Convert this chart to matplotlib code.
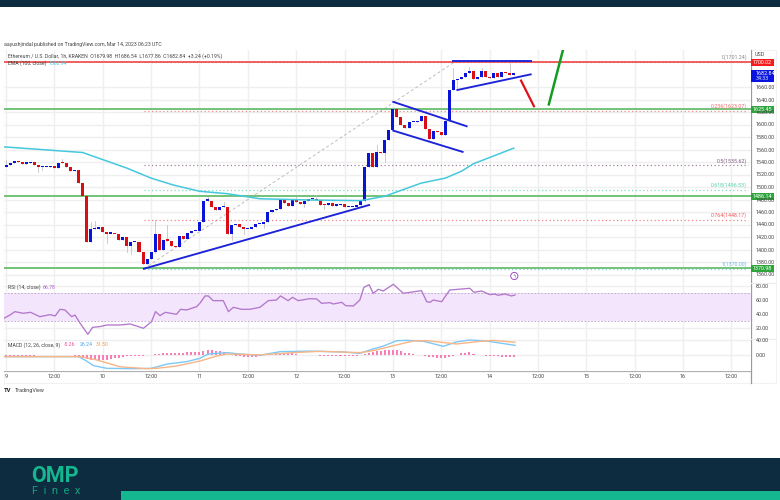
import matplotlib
matplotlib.use('Agg')
from matplotlib import pyplot as plt
from matplotlib.patches import Rectangle, Circle

plt.rcParams['font.family'] = ['Roboto', 'DejaVu Sans']

# hourly candles, hour 0 = 9 Mar 00:00
first_open = 1532
closes = [1536, 1539, 1543, 1541, 1538, 1539, 1540, 1536, 1532, 1532, 1533, 1535, 1531, 1539, 1538.5,
          1533, 1526, 1528.5, 1507, 1486, 1413,
          1433, 1433, 1437, 1429, 1426, 1426, 1425, 1416, 1420, 1406, 1412, 1412, 1397, 1378, 1385, 1396,
          1426, 1400, 1416, 1415, 1406, 1405, 1423, 1418, 1427, 1430, 1430, 1444, 1479, 1479, 1468, 1464,
          1468, 1468, 1425, 1440, 1442, 1436, 1433, 1434, 1437, 1441,
          1441, 1445, 1461, 1464, 1465, 1480, 1475, 1470, 1482, 1476, 1474, 1479, 1481, 1481, 1480, 1472.5,
          1471.5, 1475, 1471, 1471.5, 1473.5, 1468, 1468, 1469, 1472, 1479,
          1533, 1555, 1533, 1557, 1555, 1576, 1592, 1625, 1612, 1600, 1595, 1604, 1605, 1607, 1615, 1594,
          1578, 1590, 1588, 1584, 1606, 1656, 1672, 1674, 1676, 1683, 1686, 1673, 1676, 1687, 1676, 1675,
          1683, 1677, 1685, 1683, 1680, 1683]
wick_highs = {0: 1544, 14: 1545, 21: 1445, 22: 1447, 37: 1448, 40: 1440, 50: 1485, 54: 1476, 72: 1484,
              77: 1488, 111: 1691, 115: 1693, 118: 1691, 125: 1699, 96: 1628, 92: 1568}
wick_lows = {8: 1525, 9: 1528, 25: 1411, 30: 1397, 31: 1394, 37: 1395, 56: 1416, 59: 1426, 64: 1435,
             74: 1468, 79: 1466, 112: 1656, 105: 1574, 94: 1540}

ema_hours = [-0.5, 19, 30, 36, 41.5, 48, 55, 63, 75.5, 88, 94, 103, 109, 113, 116, 126]
ema_values = [1565, 1556, 1531, 1515, 1504, 1494, 1490, 1482, 1480, 1479, 1486, 1507, 1515, 1526, 1538, 1563]

fib_labels = ['0(1701.24)', '0.236(1623.07)', '0.5(1535.62)', '0.618(1496.53)', '0.764(1448.17)', '1(1370.00)']
fib_levels = [1701.24, 1623.07, 1535.62, 1496.53, 1448.17, 1370.0]
fib_colors = ['#8a8a8a', '#ee6a6a', '#7d5a7d', '#57d3a5', '#ee5a5a', '#6ab7e8']

resistance = 1701.24
supports = [1625.45, 1486.14, 1370.98]

rsi_hours = [-0.5, 1, 2.2, 4.3, 6.1, 8.4, 10.9, 12.2, 13.4, 14.6, 16.3, 17.1, 18.4, 20.3, 21.5, 23.3, 25, 28.3,
             30.8, 34.1, 36.1, 37.1, 38.2, 39.5, 42.3, 43.3, 44.8, 47.3, 48.1, 49.4, 50.2, 51.4, 53.9, 55.2,
             56.4, 58.5, 60.5, 63, 65.1, 67.1, 68.1, 70, 71.1, 72.5, 75.4, 77.1, 78.3, 80.4, 81.2, 83.3, 84.3,
             86.2, 87.8, 88.8, 90.1, 91.1, 92.4, 93.6, 96.1, 98.6, 103.1, 104.4, 105.2, 106, 108.1, 110.1,
             115.1, 116.1, 118, 120.1, 121.3, 122.1, 123.8, 125.4, 126.3]
rsi_values = [34.3, 39, 43.8, 41.4, 42.8, 36.6, 39.5, 37.6, 47.1, 46.2, 36.6, 39, 27.1, 11.4, 21.4, 22.4, 24.7, 24.7,
              26.2, 20, 29.5, 43.8, 38.1, 42.8, 40, 47.1, 46.2, 50.9, 55.7, 66.2, 66.2, 59.5, 59.5, 43.8,
              50, 47.1, 47.1, 50, 59.5, 60.4, 66.2, 59.5, 64.2, 59.5, 62.3, 61.9, 55.7, 56.6, 54.7, 57.1, 52.3,
              51.9, 60.4, 78.5, 82.3, 70, 75.7, 73.3, 82.8, 70, 73.8, 58, 57.1, 60.4, 58, 74.7,
              77.1, 71.4, 73.3, 68, 69, 67.1, 69, 66.2, 67.6]

macd_hours = [-0.5, 18, 20, 21.7, 25, 31.6, 36.1, 39.9, 44.8, 48.1, 50.2, 54.8, 58.1, 63, 68, 75.4, 83.7, 87.8,
              90.3, 93.6, 96.9, 99.4, 103.5, 108.5, 111.8, 115.1, 119.2, 126.3]
macd_line = [-3.5, -3.5, -15, -27, -34, -35, -34, -23, -16.6, -8, 3.4, 7, 3.4, 0, 9.5, 11, 8.7, 5,
             14, 24, 38, 39, 37, 23.5, 35, 40, 37.5, 26]
signal_hours = [-0.5, 18.4, 22.5, 28.3, 35, 37.4, 42.3, 48.1, 52.3, 54.8, 63, 71.3, 77.9, 87.8, 91.1, 96.1, 101,
                104.4, 111.8, 117.6, 120.9, 126.3]
signal_line = [-3.5, -3.5, -12, -30, -35, -34, -28, -15, -2, 3.4, 1, 7, 10.4, 7, 12, 25, 37.4, 38.3, 29.6, 36.5, 39,
               34]
macd_hist = [-1, -1, -2, -2, -1, -1, -1, -1, 0, 0, 0, 0, 1, 1, 0, 0, 0, -1, -3,
             -6, -9, -12, -13, -14, -13, -12, -9, -8, -6, -4, -3, -2, -2, -1, -1, 0, 1, 3, 4, 5, 6, 6, 7, 7, 7,
             8, 8, 9, 9, 11, 13, 13, 11, 11, 9, 1, 0, -2, -3, -4, -5, -5, -4,
             -2, 0, 2, 2, 3, 3, 4, 5, 5, 3, 1, 1, 0, 0, 0, -1, -2, -2, -2, -2, -2, -2, -2, -1, -1, 0,
             3, 7, 9, 10, 12, 14, 15, 15, 13, 10, 7, 5, 3, 2, 0, -2, -4, -5, -7, -8, -7, -5, -3, 0, 6, 7, 8, 4,
             2, 0, -1, -2, -3, -3, -4, -4, -5, -5]

price_ticks = [1660, 1640, 1620, 1600, 1580, 1560, 1540, 1520, 1500, 1480, 1460, 1440, 1420, 1400, 1380, 1360]
rsi_ticks = [80, 60, 40, 20]
macd_ticks = [40, 0]
time_hours = [0, 12, 24, 36, 48, 60, 72, 84, 96, 108, 120, 132, 144, 156, 168, 180]
time_labels = ['9', '12:00', '10', '12:00', '11', '12:00', '12', '12:00', '13', '12:00', '14', '12:00',
               '15', '12:00', '16', '12:00']

# annotation lines drawn on the chart, (hour, price)
blue_lines = [([34.2, 90.1], [1370, 1472]),
              ([110.9, 130.2], [1702, 1702]),
              ([112, 130.2], [1656, 1681]),
              ([96.1, 114.3], [1637, 1598]),
              ([96.1, 113.3], [1591, 1557])]
red_arrow = ([127.8, 131], [1671, 1630])
green_arrow = ([134.7, 138.2], [1633, 1720])
fib_trend = ([34.2, 111.4], [1370, 1701.24])

W, H = 780, 500
NAVY = '#0e2c40'
TEAL = '#14b78f'
GRID = '#efefef'


def axes_px(fig, left, top, right, bottom):
    return fig.add_axes([left / W, 1 - bottom / H, (right - left) / W, (bottom - top) / H])


def setup_pane(ax, ylim, yticks):
    ax.set_xlim(-0.5, 184.86)
    ax.set_ylim(*ylim)
    ax.set_xticks(time_hours)
    ax.set_yticks(yticks)
    ax.grid(True, color=GRID, lw=1.0)
    ax.set_axisbelow(True)
    ax.tick_params(length=0, labelbottom=False, labelleft=False)
    for s in ax.spines.values():
        s.set_visible(False)


fig = plt.figure(figsize=(W / 100, H / 100), dpi=100, facecolor='white')

# page bands
bg = fig.add_axes([0, 0, 1, 1], zorder=-1)
bg.set_xlim(0, W)
bg.set_ylim(H, 0)
bg.axis('off')
bg.add_patch(Rectangle((0, 0), W, 6.5, color=NAVY, lw=0))
bg.add_patch(Rectangle((0, 458), W, 42, color=NAVY, lw=0))
bg.add_patch(Rectangle((121, 491), W - 121, 9, color=TEAL, lw=0))
bg.add_patch(Rectangle((4, 50), 772, 333, fc='none', ec='#f2f2f2', lw=0.8))

# main pane
ax = axes_px(fig, 4, 50, 751, 283)
setup_pane(ax, (1347.2, 1720), price_ticks)

opens = [first_open] + closes[:-1]
for h, (o, c) in enumerate(zip(opens, closes)):
    top_w = wick_highs.get(h, max(o, c))
    low_w = wick_lows.get(h, min(o, c))
    ax.plot([h, h], [low_w, top_w], color='#c4c4c4', lw=0.6, zorder=3)
    col = '#0a14d8' if c >= o else '#d80f14'
    ax.bar(h, max(abs(c - o), 2), bottom=min(o, c), width=0.75, color=col, lw=0, zorder=4)

ax.plot(*fib_trend, color='#bdbdbd', lw=0.7, ls=(0, (3, 2.5)), zorder=2)
for level, col in zip(fib_levels, fib_colors):
    ax.plot([34.2, 184], [level, level], color=col, lw=0.9, ls=(0, (1, 2)), alpha=0.75, zorder=2)
ax.axhline(resistance, color='#ef5350', lw=1.3, zorder=2)
for level in supports:
    ax.axhline(level, color='#73c378', lw=1.4, zorder=2)
ax.plot(ema_hours, ema_values, color='#45c8dc', lw=1.1, zorder=5)
for xs, ys in blue_lines:
    ax.plot(xs, ys, color='#1b22d8', lw=1.35, zorder=6)
ax.plot(*red_arrow, color='#e0101a', lw=1.6, zorder=6)
ax.plot(*green_arrow, color='#159a22', lw=1.8, zorder=6)

for label, level, col, dy in zip(fib_labels, fib_levels, fib_colors, [1.4, 1, 1, 1.3, 1.5, 1]):
    ax.annotate(label, (183.9, level), xytext=(0, dy), textcoords='offset points', ha='right', va='bottom',
                fontsize=3.8, color=col)

# rsi pane
ax_rsi = axes_px(fig, 4, 283, 751, 339)
setup_pane(ax_rsi, (4.7, 84.7), rsi_ticks)
ax_rsi.axhspan(30, 70, color='#f3e5fb', lw=0, zorder=1)
for level in (30, 70):
    ax_rsi.axhline(level, color='#b9a2c6', lw=0.6, ls=(0, (2, 2)), zorder=2)
ax_rsi.plot(rsi_hours, rsi_values, color='#b377cc', lw=0.95, zorder=3)

# macd pane
ax_macd = axes_px(fig, 4, 339, 751, 371)
setup_pane(ax_macd, (-41, 42.6), macd_ticks)
ax_macd.bar(range(len(macd_hist)), macd_hist, width=0.5, color='#f77fb8', lw=0, zorder=2)
ax_macd.plot(macd_hours, macd_line, color='#7cc8f7', lw=1.0, zorder=3)
ax_macd.plot(signal_hours, signal_line, color='#f8b585', lw=1.0, zorder=4)

bg.plot([4, 751], [371, 371], color='#b0b0b0', lw=0.9)
bg.plot([751, 751], [50, 383], color='#9a9a9a', lw=0.9)
bg.plot([4, 776], [339, 339], color='#ececec', lw=0.8)
bg.plot([4, 776], [283, 283], color='#ececec', lw=0.8)

# text and price tags go on a full figure layer in pixel coordinates
top = fig.add_axes([0, 0, 1, 1], zorder=5)
top.set_xlim(0, W)
top.set_ylim(H, 0)
top.axis('off')


def put_text(x, y, s, **kw):
    kw.setdefault('fontsize', 3.9)
    kw.setdefault('color', '#444444')
    kw.setdefault('va', 'center')
    return top.text(x, y, s, **kw)


for p in price_ticks:
    put_text(756, 87.5 + (1660 - p) * 0.625, f'{p:.2f}')
for v in rsi_ticks:
    put_text(756, 300.3 + (60 - v) * 0.7, f'{v:.2f}')
for v in macd_ticks:
    put_text(756, 355.3 - v * 0.3825, f'{v:.2f}')
put_text(755, 55, 'USD')

for h, s in zip(time_hours, time_labels):
    put_text(6 + 4.03 * h, 376.5, s, ha='center')

top.add_patch(Rectangle((751, 58.5), 23, 7, color='#f51c1c', lw=0))
put_text(762.5, 62, '1700.02', color='white', ha='center')
top.add_patch(Rectangle((751, 70), 23, 12, color='#0a14e0', lw=0))
put_text(756, 73.5, '1682.84', color='white')
put_text(756, 78.5, '34:33', color='#cfe0ff')
for level, s in zip(supports, ['1625.45', '1486.14', '1370.98']):
    y = 87.5 + (1660 - level) * 0.625
    top.add_patch(Rectangle((751, y - 3.5), 23, 7, color='#2ea53c', lw=0))
    put_text(762.5, y, s, color='white', ha='center')
top.add_patch(Circle((514.3, 276), 3.6, fc='white', ec='#9c4fc0', lw=0.7))
put_text(514.3, 276, 'ϟ', color='#9c4fc0', fontsize=4, ha='center')

# header and legends
put_text(4, 44.5, 'aayushjindal published on TradingView.com, Mar 14, 2023 06:23 UTC', fontsize=3.7)
put_text(8, 56, 'Ethereum / U.S. Dollar, 1h, KRAKEN  O1679.98  H1686.54  L1677.86  C1682.84  +3.24 (+0.19%)',
         fontsize=3.7)
put_text(7.5, 63.5, 'EMA (100, close)', fontsize=3.7)
put_text(49, 63.5, '1562.94', fontsize=3.7, color='#45c8dc')
put_text(7.5, 287.5, 'RSI (14, close)', fontsize=3.7)
put_text(43, 287.5, '66.78', fontsize=3.7, color='#a860c8')
put_text(7.5, 345, 'MACD (12, 26, close, 9)', fontsize=3.7)
put_text(64, 345, '-5.26', fontsize=3.7, color='#f0509a')
put_text(80, 345, '26.24', fontsize=3.7, color='#4aa8f0')
put_text(96, 345, '31.50', fontsize=3.7, color='#f09a50')
put_text(4, 390.5, 'TV', fontsize=4.2, fontweight='bold', color='#222222')
put_text(14.5, 390.5, 'TradingView', fontsize=3.9)

# logo
put_text(31, 475.5, 'OMP', fontsize=15.5, fontweight='bold', color=TEAL, family='Roboto')
put_text(32, 491, 'F  i  n  e  x', fontsize=8, color='#14a080', family='Roboto')

fig.savefig('out.png', dpi=100)
